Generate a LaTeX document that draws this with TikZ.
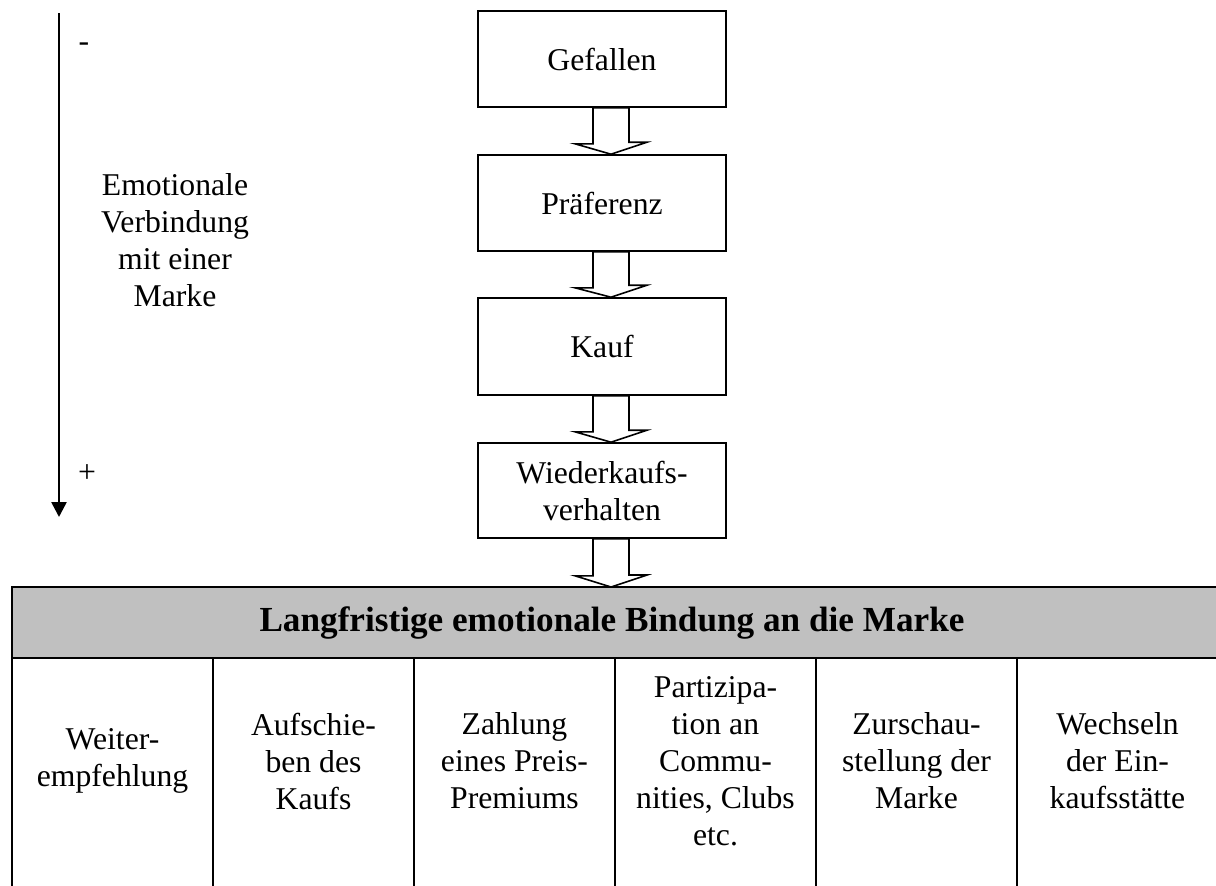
\documentclass[tikz,border=0pt]{standalone}
\usepackage{fontspec}
\setmainfont{Liberation Serif}
\usetikzlibrary{calc,arrows.meta}
\definecolor{hdrgray}{HTML}{C0C0C0}
\begin{document}
\begin{tikzpicture}[x=0.5pt,y=-0.5pt,
  font=\fontsize{15.85}{18.5}\selectfont,
  stepbox/.style={draw,line width=0.8pt,minimum width=124pt,align=center,inner sep=0pt},
  blockarrow/.style={draw,line width=0.8pt,fill=white,line join=miter},
  celltext/.style={align=center,inner sep=0pt},
  tableline/.style={draw,line width=0.8pt}]
\useasboundingbox (0,0) rectangle (1216,885);
\clip (0,0) rectangle (1216,885);
% steps
\node[stepbox,minimum height=48pt] (gef) at (602,59) {Gefallen};
\node[stepbox,minimum height=48pt] (pra) at (602,203) {Präferenz};
\node[stepbox,minimum height=48.5pt] (kau) at (602,346.5) {Kauf};
\node[stepbox,minimum height=47.5pt] (wie) at (602,490.5) {Wiederkaufs-\\verhalten};
% table
\draw[tableline,fill=hdrgray] (12,587) rectangle (1218,658);
\node[font=\fontsize{17.6}{20}\selectfont\bfseries] (hdr) at (612,623) {Langfristige emotionale Bindung an die Marke};
\foreach \i in {0,...,5}{
  \draw[tableline] ({12+201*\i},658) rectangle ({12+201*(\i+1)},900);
}
\node[celltext] (c1) at (112.5,761) {Weiter-\\empfehlung};
\node[celltext] (c2) at (313.5,761) {Aufschie-\\ben des\\Kaufs};
\node[celltext] (c3) at (514.5,761) {Zahlung\\eines Preis-\\Premiums};
\node[celltext] (c4) at (715.5,761) {Partizipa-\\tion an\\Commu-\\nities, Clubs\\etc.};
\node[celltext] (c5) at (916.5,761) {Zurschau-\\stellung der\\Marke};
\node[celltext] (c6) at (1117.5,761) {Wechseln\\der Ein-\\kaufsstätte};
\coordinate (tabtop) at (602,587);
% block arrows
\foreach \a/\b in {gef/pra,pra/kau,kau/wie}{
  \path[blockarrow] ($(\a.south)+(-9,0)$) -- ++(0,36) -- ++(-18,0) -- ($(\b.north)+(9,0)$) -- ++(36,-12)
     -- ++(-18,0) -- ($(\a.south)+(27,0)$) -- cycle;
}
\path[blockarrow] ($(wie.south)+(-9,0)$) -- ++(0,37) -- ++(-18,0) -- ($(tabtop)+(9,0)$) -- ++(36,-12)
     -- ++(-18,0) -- ($(wie.south)+(27,0)$) -- cycle;
% left axis
\coordinate (axtop) at (59,13);
\coordinate (axbot) at (59,517);
\draw[line width=1.3pt,-{Triangle[width=7.5pt,length=7.5pt]}] (axtop) -- (axbot);
\node (minus) at (84,47) {-};
\node (plus) at (87,474) {+};
\node[celltext] (emo) at (175,240) {Emotionale\\Verbindung\\mit einer\\Marke};
\end{tikzpicture}
\end{document}
